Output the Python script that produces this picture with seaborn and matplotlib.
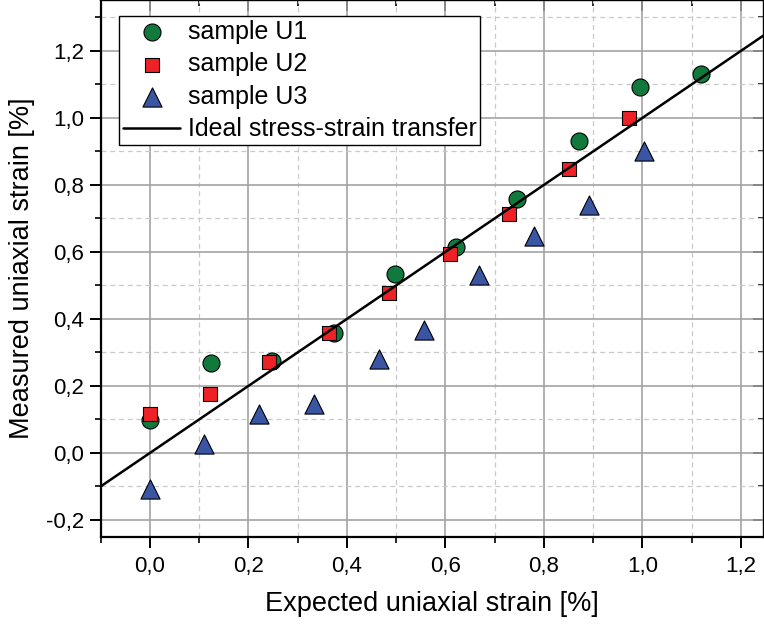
import matplotlib
matplotlib.use("Agg")
import matplotlib.pyplot as plt
import seaborn as sns
import pandas as pd
from matplotlib.ticker import FixedLocator

# ---------------- data ----------------
u1_x = [0.0, 0.124, 0.247, 0.374, 0.497, 0.621, 0.746, 0.871, 0.995, 1.12]
u1_y = [0.098, 0.267, 0.275, 0.359, 0.534, 0.614, 0.758, 0.930, 1.093, 1.131]
u2_x = [0.0, 0.122, 0.242, 0.364, 0.485, 0.609, 0.730, 0.851, 0.973]
u2_y = [0.116, 0.177, 0.272, 0.359, 0.477, 0.593, 0.713, 0.847, 1.001]
u3_x = [0.0, 0.110, 0.222, 0.334, 0.466, 0.556, 0.669, 0.780, 0.892, 1.004]
u3_y = [-0.107, 0.027, 0.115, 0.145, 0.280, 0.366, 0.531, 0.648, 0.740, 0.902]
series_labels = ["sample U1", "sample U2", "sample U3"]
line_label = "Ideal stress-strain transfer"

x_ticks = [0.0, 0.2, 0.4, 0.6, 0.8, 1.0, 1.2]
x_tick_labels = ["0,0", "0,2", "0,4", "0,6", "0,8", "1,0", "1,2"]
x_minor = [-0.1, 0.1, 0.3, 0.5, 0.7, 0.9, 1.1]
y_ticks = [-0.2, 0.0, 0.2, 0.4, 0.6, 0.8, 1.0, 1.2]
y_tick_labels = ["-0,2", "0,0", "0,2", "0,4", "0,6", "0,8", "1,0", "1,2"]
y_minor = [-0.1, 0.1, 0.3, 0.5, 0.7, 0.9, 1.1, 1.3]
x_limits = [-0.1, 1.247]
y_limits = [-0.251, 1.352]

# ---------------- style ----------------
sns.set_style("ticks")
plt.rcParams["font.family"] = ["Liberation Sans", "DejaVu Sans"]
plt.rcParams["text.color"] = "black"
plt.rcParams["axes.labelcolor"] = "black"
plt.rcParams["xtick.color"] = "black"
plt.rcParams["ytick.color"] = "black"
plt.rcParams["xtick.labelcolor"] = "black"
plt.rcParams["ytick.labelcolor"] = "black"

fig = plt.figure(figsize=(7.64, 6.28), dpi=100)
ax = fig.add_axes([0.1318, 0.1449, 0.8682, 0.8551])

green = "#12793c"
red = "#ee2226"
blue = "#3a55a3"

df1 = pd.DataFrame({"x": u1_x, "y": u1_y})
df2 = pd.DataFrame({"x": u2_x, "y": u2_y})
df3 = pd.DataFrame({"x": u3_x, "y": u3_y})

sns.scatterplot(data=df1, x="x", y="y", ax=ax, marker="o", s=150, color=green,
                edgecolor="black", linewidth=0.8, label=series_labels[0], zorder=3)
sns.scatterplot(data=df2, x="x", y="y", ax=ax, marker="s", s=110, color=red,
                edgecolor="black", linewidth=0.8, label=series_labels[1], zorder=4)
sns.scatterplot(data=df3, x="x", y="y", ax=ax, marker="^", s=190, color=blue,
                edgecolor="black", linewidth=0.8, label=series_labels[2], zorder=5)
ax.axline((0, 0), slope=1, color="black", lw=1.8, label=line_label, zorder=6)

ax.set_xlim(x_limits)
ax.set_ylim(y_limits)

ax.set_xticks(x_ticks, labels=x_tick_labels)
ax.set_yticks(y_ticks, labels=y_tick_labels)
ax.xaxis.set_minor_locator(FixedLocator(x_minor))
ax.yaxis.set_minor_locator(FixedLocator(y_minor))

ax.grid(which="major", color="#a3a3a3", lw=1.2, ls="-", zorder=0)
ax.grid(which="minor", color="#c9c9c9", lw=0.9, ls=(0, (4, 3)), zorder=0)
ax.set_axisbelow(True)

ax.tick_params(which="major", direction="out", length=8, width=1.4,
               labelsize=16, color="black")
ax.tick_params(axis="x", which="major", pad=6)
ax.tick_params(axis="y", which="major", pad=4)
ax.tick_params(which="minor", direction="out", length=4.5, width=1.2, color="black")

for sp in ax.spines.values():
    sp.set_linewidth(1.6)
    sp.set_color("black")

# mirrored axes with inward ticks
sx = ax.secondary_xaxis("top")
sx.set_xticks(x_ticks)
sx.xaxis.set_minor_locator(FixedLocator(x_minor))
sx.tick_params(which="major", direction="in", length=8, width=1.4, labeltop=False)
sx.tick_params(which="minor", direction="in", length=4.5, width=1.2)
sy = ax.secondary_yaxis("right")
sy.set_yticks(y_ticks)
sy.yaxis.set_minor_locator(FixedLocator(y_minor))
sy.tick_params(which="major", direction="in", length=8, width=1.4, labelright=False)
sy.tick_params(which="minor", direction="in", length=4.5, width=1.2)
sx.spines["top"].set_linewidth(1.6)
sy.spines["right"].set_linewidth(1.6)

ax.set_xlabel("Expected uniaxial strain [%]", fontsize=19.5, labelpad=10)
ax.set_ylabel("Measured uniaxial strain [%]", fontsize=19.5, labelpad=8)

leg = ax.legend(loc="upper left", bbox_to_anchor=(0.0276, 0.970), borderaxespad=0,
                fontsize=18, frameon=True, fancybox=False, framealpha=1,
                edgecolor="black", handlelength=2.3, handletextpad=0.3,
                labelspacing=0.34, borderpad=0.15)
leg.get_frame().set_linewidth(1.0)

fig.savefig("out.png", dpi=100)
